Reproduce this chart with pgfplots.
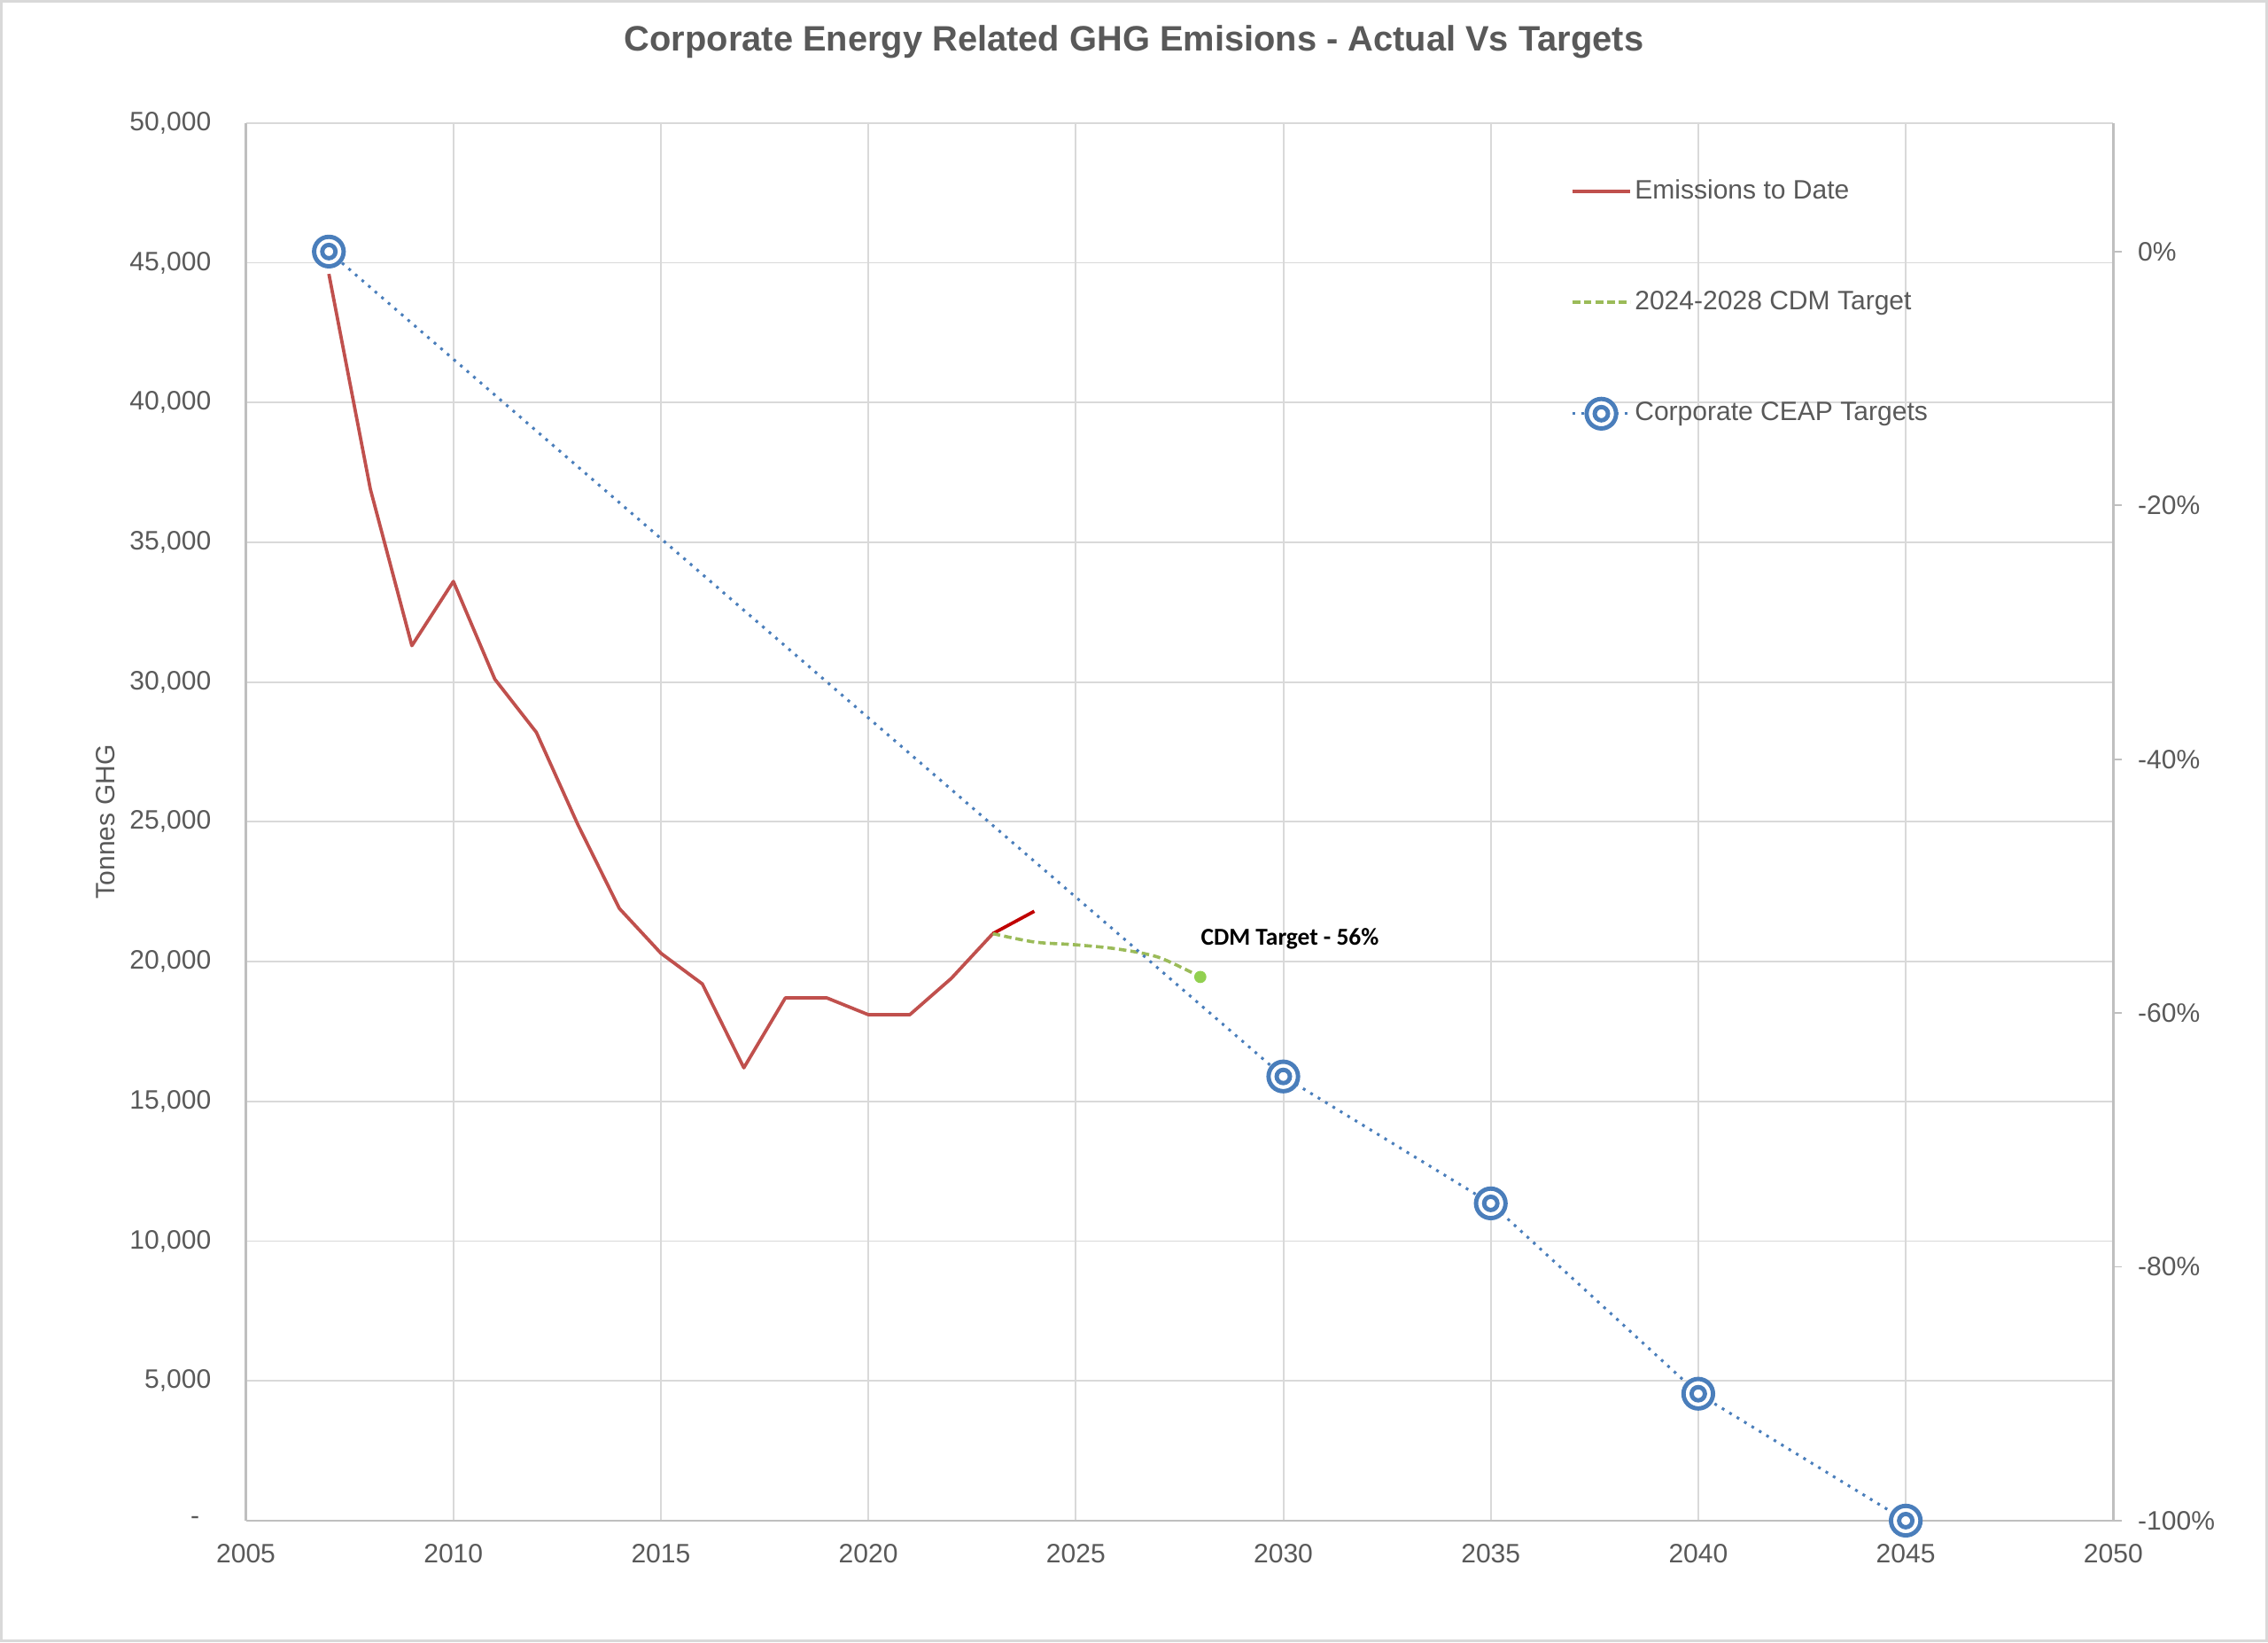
\documentclass[border=0pt]{standalone}
\usepackage{pgfplots}
\pgfplotsset{compat=1.18}
\usepackage{fontspec}
\setmainfont{Liberation Sans}
\newfontfamily\calibri{Carlito}

\definecolor{txt}{HTML}{595959}
\definecolor{gridc}{HTML}{D9D9D9}
\definecolor{axc}{HTML}{BFBFBF}
\definecolor{emis}{HTML}{C0504D}
\definecolor{emisdark}{HTML}{C00000}
\definecolor{cdm}{HTML}{9BBB59}
\definecolor{cdmdot}{HTML}{92D050}
\definecolor{ceap}{HTML}{4A7EBB}

% double ring marker for the CEAP targets
\pgfdeclareplotmark{bullseye}{%
  \pgfpathcircle{\pgfpointorigin}{\pgfplotmarksize}%
  \pgfusepathqfillstroke
  \pgfpathcircle{\pgfpointorigin}{0.45\pgfplotmarksize}%
  \pgfusepathqstroke
}

\pgfplotstableread{
year  t
2007  44600
2008  36900
2009  31300
2010  33600
2011  30100
2012  28200
2013  24900
2014  21900
2015  20300
2016  19200
2017  16200
2018  18700
2019  18700
2020  18100
2021  18100
2022  19400
2023  21000
}\emissions

\pgfplotstableread{
year  t
2023  21000
2024  21800
}\latest

\pgfplotstableread{
year  t
2023  21000
2024  20700
2025  20600
2026  20450
2027  20150
2028  19450
}\cdmtarget

\pgfplotstableread{
year  t
2007  45400
2030  15890
2035  11350
2040  4540
2045  0
}\ceaptargets

\begin{document}
\begin{tikzpicture}
\begin{axis}[
    at={(0,0)}, anchor=south west,
    width=645.5pt, height=483pt, scale only axis,
    xmin=2005, xmax=2050,
    ymin=0, ymax=50000,
    scaled y ticks=false,
    xtick={2005,2010,...,2050},
    xticklabels={2005,2010,2015,2020,2025,2030,2035,2040,2045,2050},
    ytick={0,5000,...,50000},
    yticklabels={{-\kern4pt\null},{5,000},{10,000},{15,000},{20,000},{25,000},{30,000},{35,000},{40,000},{45,000},{50,000}},
    grid=major,
    grid style={gridc, line width=0.6pt},
    axis x line*=bottom, axis y line*=left,
    axis line style={axc, line width=0.8pt, -},
    major tick length=0pt,
    tick label style={font=\fontsize{9.2}{11}\selectfont, text=txt},
    yticklabel style={xshift=-8.5pt},
    xticklabel style={yshift=-4.5pt},
    ylabel={Tonnes GHG},
    ylabel style={at={(axis description cs:-0.0751,0.5)}, anchor=center, rotate=0,
                  font=\fontsize{9.2}{11}\selectfont, text=txt},
    clip=false,
    legend cell align=left,
    legend style={at={(rel axis cs:0.7095,0.8716)}, anchor=west,
                  draw=none, fill=none, inner sep=0pt, outer sep=0pt,
                  font=\fontsize{9.2}{11}\selectfont, text=txt,
                  row sep=28.4pt,
                  nodes={inner sep=1pt}},
    legend image code/.code={\draw[mark repeat=2,mark phase=2,#1]
        plot coordinates {(0pt,0pt) (10pt,0pt) (20pt,0pt)};},
]
  \addplot[emis, line width=1.15pt, line join=round] table[x=year,y=t] {\emissions};
  \addlegendentry{Emissions to Date}

  \addplot[emisdark, line width=1.15pt, forget plot] table[x=year,y=t] {\latest};

  \addplot[cdm, line width=1.1pt, smooth, dash pattern=on 2.6pt off 1.4pt] table[x=year,y=t] {\cdmtarget};
  \addlegendentry{2024-2028 CDM Target}

  \addplot[cdmdot, only marks, mark=*, mark size=1.9pt, forget plot]
    coordinates {(2028,19450)};

  \addplot[ceap, line width=0.95pt, dash pattern=on 0.95pt off 2.05pt,
           mark=bullseye, mark size=5.1pt,
           mark options={solid, fill=white, line width=1.5pt}]
    table[x=year,y=t] {\ceaptargets};
  \addlegendentry{Corporate CEAP Targets}

  \node[anchor=west, inner sep=0pt, font=\calibri\bfseries\fontsize{8.4}{10}\selectfont, text=black]
    at (axis cs:2028,20810) {CDM Target - 56\%};
\end{axis}

\begin{axis}[
    at={(0,0)}, anchor=south west,
    width=645.5pt, height=483pt, scale only axis,
    xmin=2005, xmax=2050,
    ymin=-100, ymax=10.1322,
    axis x line=none, axis y line*=right,
    axis line style={axc, line width=1pt, -},
    ytick={-100,-80,...,0},
    yticklabels={-100\%,-80\%,-60\%,-40\%,-20\%,0\%},
    tick style={axc, line width=0.6pt},
    major tick length=3pt, tick align=outside,
    tick label style={font=\fontsize{9.2}{11}\selectfont, text=txt},
    yticklabel style={anchor=west, xshift=2pt},
]
  \addplot[draw=none] coordinates {(2005,0)};
\end{axis}

\node[font=\bfseries\fontsize{12.2}{14}\selectfont, text=txt] at (307pt,511pt)
  {Corporate Energy Related GHG Emisions - Actual Vs Targets};

\draw[gridc, line width=0.8pt] (-84.6pt,-41.6pt) rectangle (698.6pt,525.1pt);
\pgfresetboundingbox
\path[use as bounding box] (-85pt,-42pt) rectangle (699pt,525.5pt);
\end{tikzpicture}
\end{document}
